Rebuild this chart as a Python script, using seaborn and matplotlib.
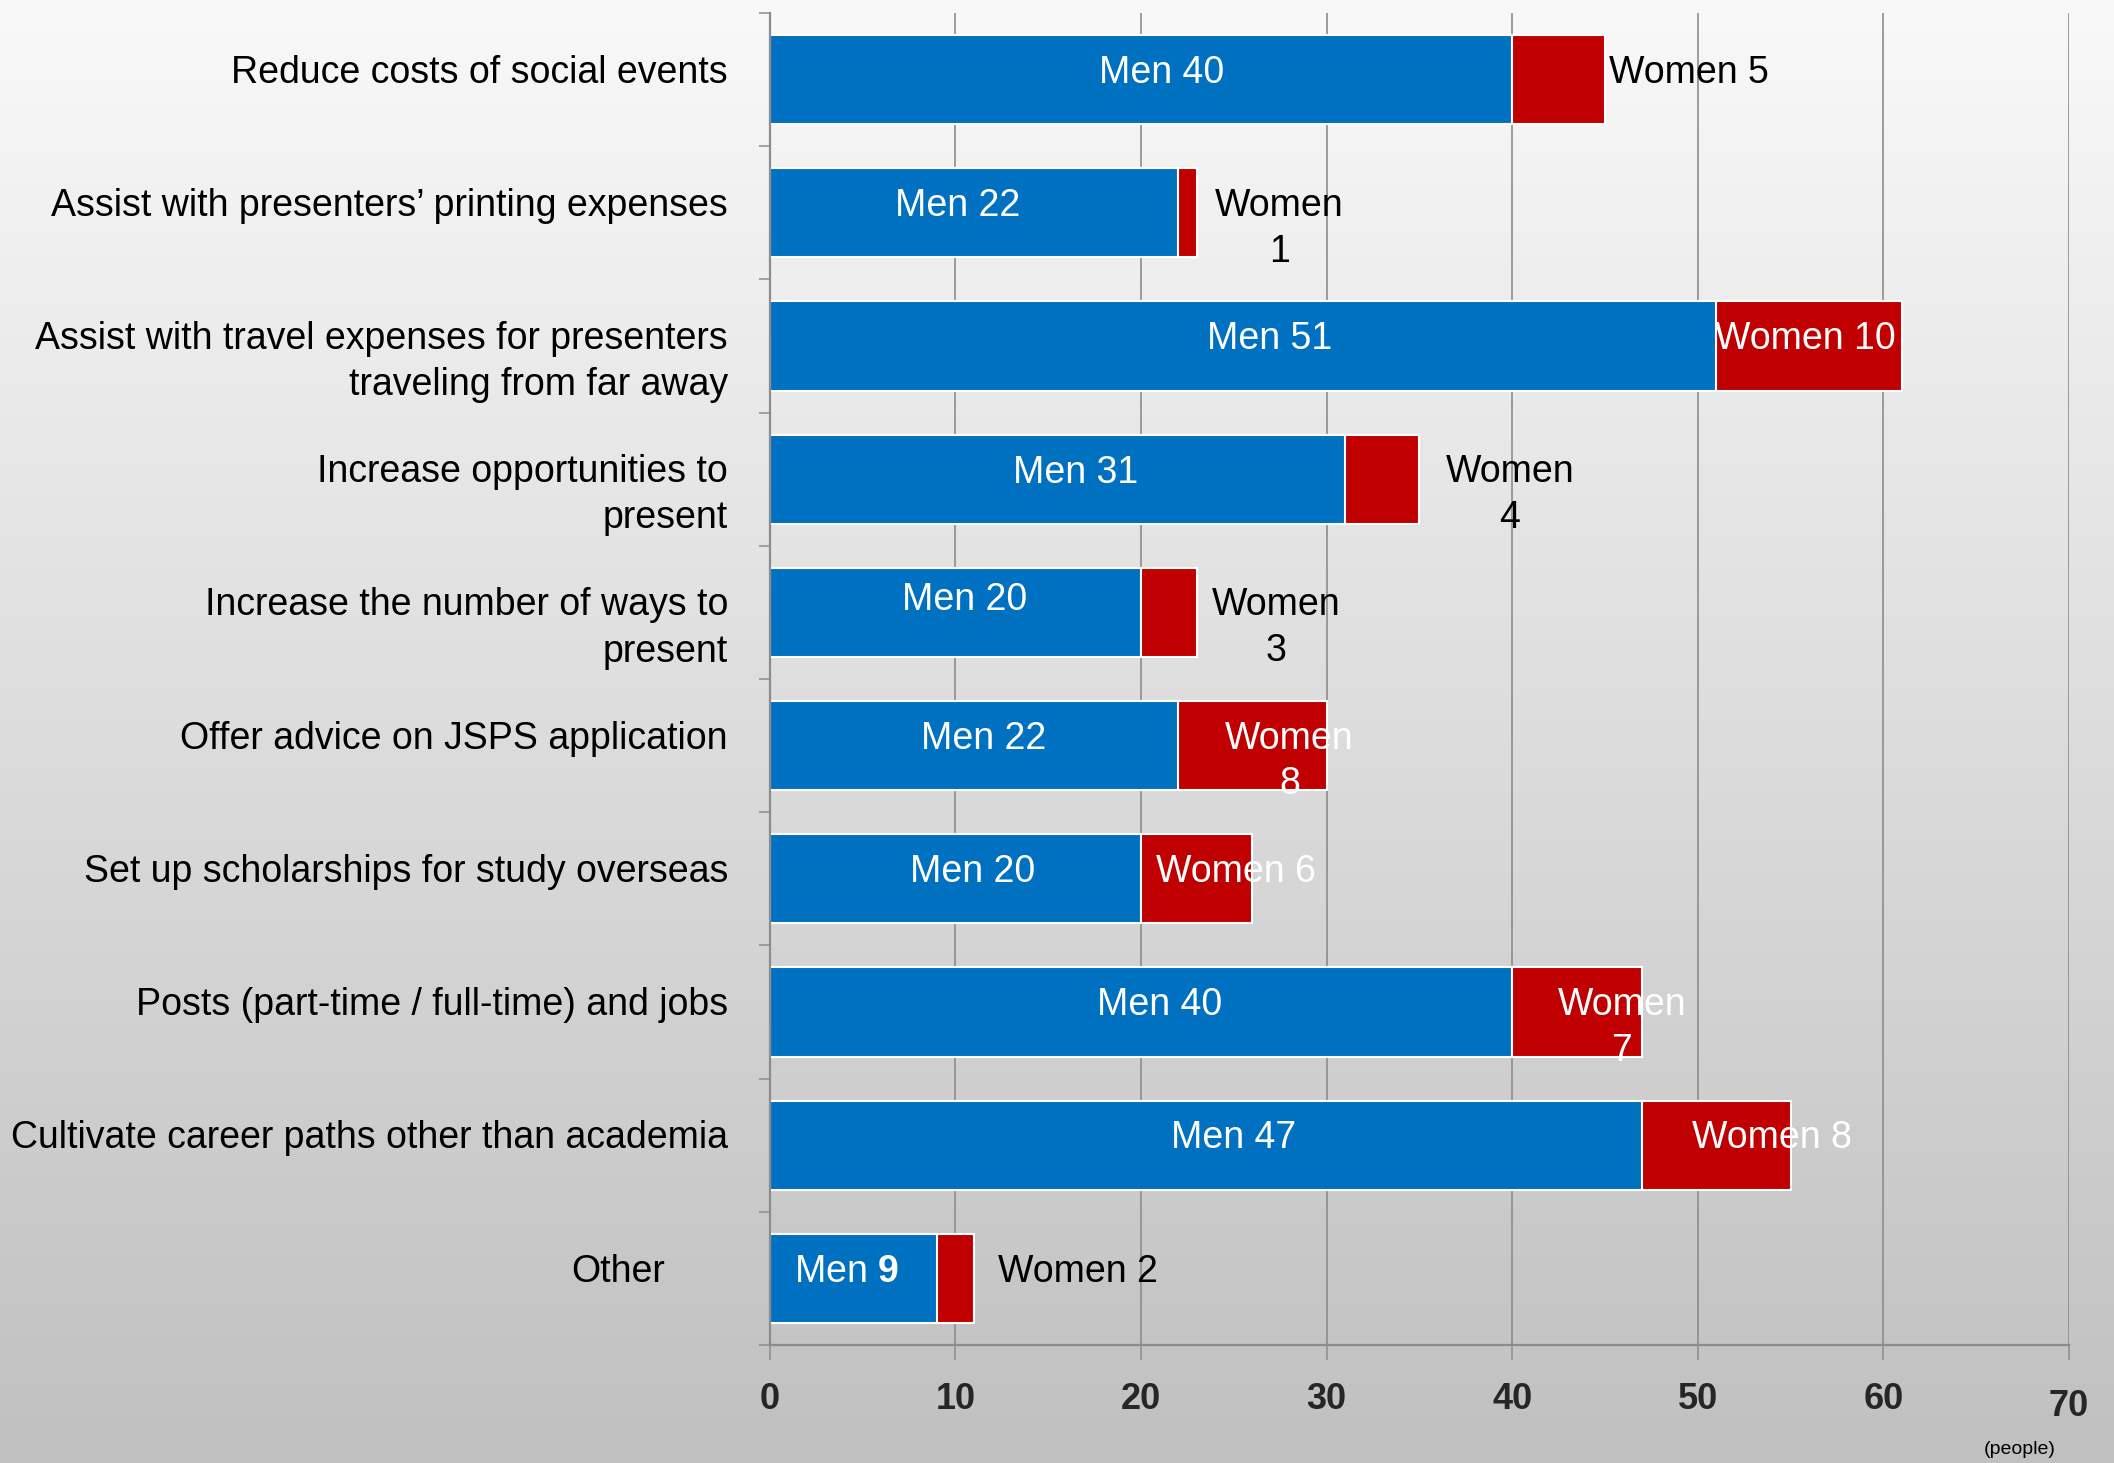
import numpy as np
import pandas as pd
import seaborn as sns
import matplotlib.pyplot as plt
from matplotlib.colors import LinearSegmentedColormap
from matplotlib.transforms import ScaledTranslation, blended_transform_factory

# data
categories = [
    "Reduce costs of social events",
    "Assist with presenters\u2019 printing expenses",
    "Assist with travel expenses for presenters\ntraveling from far away",
    "Increase opportunities to\npresent",
    "Increase the number of ways to\npresent",
    "Offer advice on JSPS application",
    "Set up scholarships for study overseas",
    "Posts (part-time / full-time) and jobs",
    "Cultivate career paths other than academia",
    "Other",
]
men = [40, 22, 51, 31, 20, 22, 20, 40, 47, 9]
women = [5, 1, 10, 4, 3, 8, 6, 7, 8, 2]
x_ticks = [0, 10, 20, 30, 40, 50, 60, 70]

# label layout, as placed in the original
men_nudge = [1.1, -0.9, 1.4, 1.0, 0.5, 0.5, 0.9, 1.0, 1.5, -0.4]
women_inside = [False, False, True, False, False, True, True, True, True, False]
women_wrap = [False, True, False, True, True, True, False, True, False, False]
women_nudge = [0.2, 1.0, -0.2, 1.4, 0.8, 2.0, 2.1, 2.4, 3.0, 1.3]

BLUE = "#0070C0"
RED = "#C00000"
GRAY = "#8c8c8c"
FS = 27

sns.set_theme(style="white")
plt.rcParams["font.family"] = ["Liberation Sans", "DejaVu Sans"]
plt.rcParams["mathtext.fontset"] = "custom"
plt.rcParams["mathtext.rm"] = "Liberation Sans"
plt.rcParams["mathtext.bf"] = "Liberation Sans:bold"

df = pd.DataFrame({"item": categories, "men": men, "women": women})
df["total"] = df["men"] + df["women"]

fig = plt.figure(figsize=(21.14, 14.63), dpi=100)

# grey gradient background
bg = fig.add_axes([0, 0, 1, 1], zorder=-10)
grad = np.linspace(0, 1, 256).reshape(-1, 1)
cmap = LinearSegmentedColormap.from_list("bg", ["#f9f9f9", "#c0c0c0"])
bg.imshow(grad, aspect="auto", cmap=cmap, extent=[0, 1, 0, 1])
bg.axis("off")

ax = fig.add_axes([0.3642, 0.0807, 0.6145, 0.9104])
ax.set_facecolor("none")

sns.barplot(data=df, x="total", y="item", color=RED, saturation=1, width=0.67,
            edgecolor="white", linewidth=1.5, errorbar=None, ax=ax)
sns.barplot(data=df, x="men", y="item", color=BLUE, saturation=1, width=0.67,
            edgecolor="white", linewidth=1.5, errorbar=None, ax=ax)

ax.set_xlim(0, 70)
ax.set_ylim(len(categories) - 0.5, -0.5)
ax.set_xlabel("")
ax.set_ylabel("")
ax.set_axisbelow(True)
ax.xaxis.grid(True, color=GRAY, linewidth=1.2)
ax.yaxis.grid(False)

for s in ["top", "right"]:
    ax.spines[s].set_visible(False)
for s in ["left", "bottom"]:
    ax.spines[s].set_color(GRAY)
    ax.spines[s].set_linewidth(1.6)

ax.set_xticks(x_ticks)
ax.set_xticklabels([str(t) for t in x_ticks], fontsize=26, fontweight="bold")
ax.tick_params(axis="x", direction="out", length=11, width=1.1, color=GRAY,
               pad=16, bottom=True)
ax.set_yticks(np.arange(len(categories)))
ax.set_yticklabels([])
ax.tick_params(axis="y", which="major", length=0)
ax.set_yticks(np.arange(-0.5, len(categories)), minor=True)
ax.tick_params(axis="y", which="minor", direction="out", length=8, width=1.1,
               color=GRAY, left=True)

# push "70" a bit lower like the original
lab70 = ax.get_xticklabels()[-1]
lab70.set_transform(lab70.get_transform() + ScaledTranslation(0, -7 / 100, fig.dpi_scale_trans))

# category labels
trans = blended_transform_factory(ax.transAxes, ax.transData)
for i, cat in enumerate(categories):
    two = "\n" in cat
    dy = 0.12 if two else -0.05
    x = -0.0808 if cat == "Other" else -0.0323
    ax.text(x, i + dy, cat, transform=trans, ha="right", va="center",
            fontsize=FS, color="black", linespacing=1.38)

# value labels
for i, (m, w) in enumerate(zip(men, women)):
    mtxt = "Men $\\mathbf{%d}$" % m if categories[i] == "Other" else "Men %d" % m
    dy = -0.09 if i == 4 else -0.05
    ax.text(m / 2 + men_nudge[i], i + dy, mtxt, ha="center", va="center",
            fontsize=FS, color="white")

    wtxt = ("Women\n%d" if women_wrap[i] else "Women %d") % w
    wdy = 0.12 if women_wrap[i] else -0.05
    if women_inside[i]:
        ax.text(m + w / 2 + women_nudge[i], i + wdy, wtxt, ha="center", va="center",
                multialignment="center", fontsize=FS, color="white", linespacing=1.35)
    else:
        ax.text(m + w + women_nudge[i], i + wdy, wtxt, ha="left", va="center",
                multialignment="center", fontsize=FS, color="black", linespacing=1.35)

fig.text(2056 / 2114, 1 - 1449 / 1463, "(people)", ha="right", va="center",
         fontsize=14, color="black")

fig.savefig("out.png", dpi=100)
